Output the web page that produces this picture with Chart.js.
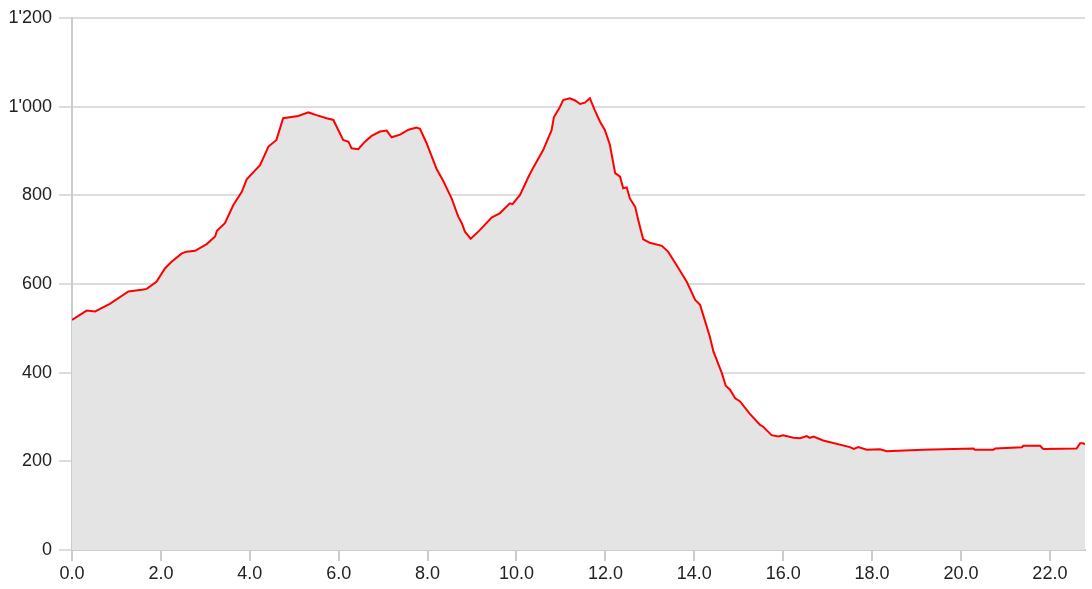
<!DOCTYPE html>
<html lang="en">
<head>
    <meta charset="UTF-8">
    <title>Elevation profile</title>
    <script src="https://cdn.jsdelivr.net/npm/chart.js"></script>
    <style>
        html, body {
            margin: 0;
            padding: 0;
            background: #fff;
        }
        #wrap {
            width: 1092px;
            height: 589px;
        }
    </style>
</head>
<body>
    <div id="wrap"><canvas id="profileChart"></canvas></div>

    <script>
        // distance along the route (km)
        const distanceKm = [
            0, 0.33, 0.52, 0.85, 1.27, 1.57, 1.68, 1.9, 2.09, 2.24, 2.47, 2.58, 2.77, 3.03, 3.22, 3.26,
            3.44, 3.63, 3.82, 3.93, 4.23, 4.42, 4.6, 4.75, 5.09, 5.32, 5.5, 5.73, 5.88, 6.1, 6.22, 6.29,
            6.44, 6.59, 6.74, 6.93, 7.08, 7.19, 7.38, 7.57, 7.75, 7.83, 7.98, 8.2, 8.35, 8.54, 8.69, 8.77,
            8.84, 8.97, 9.18, 9.44, 9.63, 9.85, 9.91, 10.08, 10.27, 10.38, 10.6, 10.79, 10.84, 10.98, 11.05,
            11.2, 11.32, 11.43, 11.54, 11.65, 11.76, 11.88, 11.99, 12.1, 12.22, 12.33, 12.4, 12.48, 12.55,
            12.67, 12.74, 12.85, 13.0, 13.27, 13.41, 13.6, 13.83, 14.02, 14.13, 14.35, 14.43, 14.62, 14.71,
            14.8, 14.92, 15.03, 15.25, 15.48, 15.55, 15.74, 15.89, 16.0, 16.23, 16.38, 16.53, 16.6, 16.68,
            16.9, 17.5, 17.59, 17.69, 17.88, 18.18, 18.33, 18.59, 19.15, 20.28, 20.31, 20.73, 20.77, 21.37,
            21.4, 21.78, 21.85, 22.6, 22.68, 22.75, 22.79
        ];

        // elevation (m)
        const elevationM = [
            519, 540, 538, 555, 583, 587, 589, 605, 635, 650, 669, 673, 675, 690, 707, 720,
            737, 778, 808, 836, 868, 910, 925, 974, 979, 987, 981, 974, 970, 925, 921, 906,
            904, 921, 934, 944, 946, 931, 937, 948, 953, 950, 917, 860, 833, 793, 752, 737,
            718, 702, 722, 750, 760, 782, 780, 801, 842, 863, 902, 947, 976, 1000, 1015,
            1019, 1014, 1006, 1009, 1019, 992, 966, 947, 914, 850, 842, 816, 818, 793,
            774, 744, 701, 693, 686, 673, 643, 605, 564, 553, 481, 448, 399, 370,
            362, 342, 335, 307, 282, 278, 259, 256, 259, 253, 252, 257, 253, 256,
            247, 232, 228, 232, 226, 227, 223, 224, 226, 229, 226, 226, 229, 232,
            235, 235, 228, 229, 241, 241, 238
        ];

        const xMax = 22.79;
        const yTicks = [0, 200, 400, 600, 800, 1000, 1200];

        const points = distanceKm.map((d, i) => ({ x: d, y: elevationM[i] }));

        function fmtThousands(v) {
            return String(v).replace(/\B(?=(\d{3})+(?!\d))/g, "'");
        }

        const tickFont = { family: 'Arial, "Liberation Sans", sans-serif', size: 18 };

        const ctx = document.getElementById('profileChart').getContext('2d');
        const profileChart = new Chart(ctx, {
            type: 'line',
            data: {
                datasets: [{
                    data: points,
                    borderColor: '#ff0000',
                    borderWidth: 2,
                    backgroundColor: '#e4e4e4',
                    fill: 'origin',
                    pointRadius: 0,
                    tension: 0
                }]
            },
            options: {
                responsive: true,
                maintainAspectRatio: false,
                animation: false,
                layout: {
                    padding: { top: 18, right: 7, left: 0, bottom: 0 }
                },
                plugins: {
                    legend: { display: false },
                    tooltip: { enabled: false }
                },
                scales: {
                    x: {
                        type: 'linear',
                        min: 0,
                        max: xMax,
                        afterFit: (s) => { s.height = 39; },
                        grid: {
                            drawOnChartArea: false,
                            drawTicks: true,
                            tickLength: 11,
                            color: '#cccccc',
                            lineWidth: 2
                        },
                        border: { display: true, color: '#cccccc', width: 2 },
                        ticks: {
                            stepSize: 2,
                            includeBounds: false,
                            maxRotation: 0,
                            autoSkip: false,
                            padding: 2,
                            color: '#222',
                            font: tickFont,
                            callback: (v) => Number(v).toFixed(1)
                        }
                    },
                    y: {
                        min: yTicks[0],
                        max: yTicks[yTicks.length - 1],
                        afterFit: (s) => { s.width = 72; },
                        grid: {
                            drawTicks: true,
                            tickLength: 13,
                            color: '#dddddd',
                            lineWidth: 2
                        },
                        border: { display: true, color: '#cccccc', width: 2 },
                        ticks: {
                            stepSize: 200,
                            padding: 7,
                            color: '#222',
                            font: tickFont,
                            callback: (v) => fmtThousands(v)
                        }
                    }
                }
            }
        });
    </script>
</body>
</html>
